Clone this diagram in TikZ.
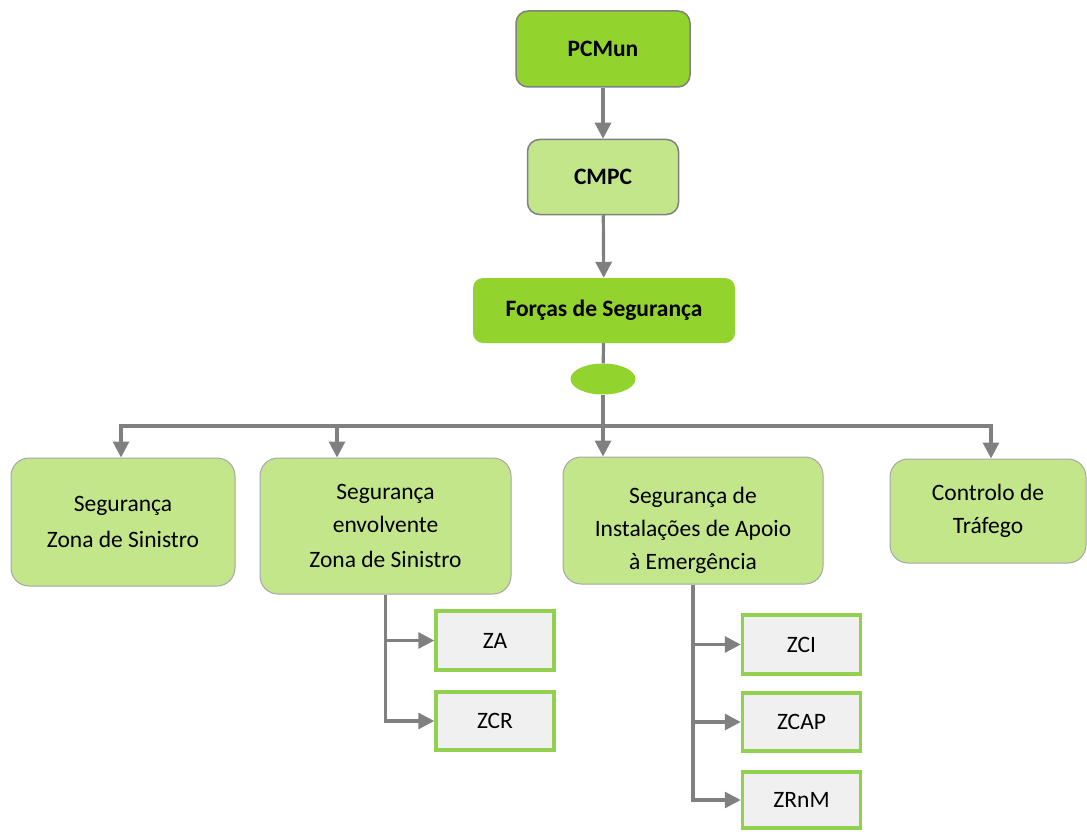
\documentclass[tikz,border=0pt]{standalone}
\usepackage{fontspec}
\setmainfont{Carlito}
\usetikzlibrary{arrows.meta,shapes.geometric}
\definecolor{dgreen}{HTML}{92D32E}
\definecolor{lgreen}{HTML}{C3E68B}
\definecolor{boxgreen}{HTML}{92D050}
\definecolor{linegray}{HTML}{808080}
\definecolor{zonegray}{HTML}{F0F0F0}

\begin{document}
\begin{tikzpicture}[x=1pt,y=-1pt,
  font=\fontsize{23.5}{33}\selectfont,
  topbox/.style={rounded corners=12pt,align=center,font=\fontsize{23.5}{28}\selectfont\bfseries,inner sep=0pt},
  unitbox/.style={rounded corners=18pt,fill=lgreen,draw=gray!70,line width=1pt,align=center,inner sep=0pt},
  zonebox/.style={fill=zonegray,draw=boxgreen,line width=3.5pt,minimum width=118pt,inner sep=0pt},
  link/.style={draw=linegray,line width=3.2pt},
  arr/.style={link,-{Triangle[length=16pt,width=16pt]}}]
  \useasboundingbox (0,0) rectangle (1087,832);

  \node[topbox,fill=dgreen,draw=gray,line width=1.5pt,minimum width=174pt,minimum height=76pt] (pcmun) at (603,49) {PCMun};
  \node[topbox,fill=lgreen,draw=gray,line width=1.5pt,minimum width=151pt,minimum height=75pt] (cmpc) at (603,177) {CMPC};
  \node[topbox,fill=dgreen,rounded corners=10pt,minimum width=262pt,minimum height=65pt] (forcas) at (604,310.5) {Forças de Segurança};
  \node[ellipse,fill=dgreen,minimum width=65pt,minimum height=31pt,inner sep=0pt] (elip) at (603,379) {};

  \node[unitbox,minimum width=224pt,minimum height=128pt] (seg1) at (123,522) {Segurança\\[3pt]Zona de Sinistro};
  \node[unitbox,minimum width=251pt,minimum height=136pt] (seg2) at (385.5,526) {Segurança\\envolvente\\[2pt]Zona de Sinistro};
  \node[unitbox,minimum width=260pt,minimum height=127pt] (seg3) at (693,520.5) {\raisebox{-16pt}[0pt][0pt]{\parbox{250pt}{\centering Segurança de\\Instalações de Apoio\\à Emergência}}};
  \node[unitbox,minimum width=196pt,minimum height=104pt] (trafego) at (988,511) {Controlo de\\Tráfego};

  \node[zonebox,minimum height=59pt] (za) at (495,640.5) {ZA};
  \node[zonebox,minimum height=58pt] (zcr) at (495,721) {ZCR};
  \node[zonebox,minimum height=59pt] (zci) at (801.5,644.5) {ZCI};
  \node[zonebox,minimum height=58pt] (zcap) at (801.5,722) {ZCAP};
  \node[zonebox,minimum height=56pt] (zrnm) at (801.5,800) {ZRnM};

  \coordinate (bar) at (603,426);
  \draw[arr] (pcmun) -- (cmpc);
  \draw[arr] (cmpc) -- (forcas);
  \draw[link] (forcas) -- (elip);
  \draw[link] (elip) -- (bar);
  \draw[arr] (bar) -| ([xshift=-2pt]seg1.north);
  \draw[arr] (bar) -| ([xshift=-48.5pt]seg2.north);
  \draw[arr] (bar) -| ([xshift=-90pt]seg3.north);
  \draw[arr] (bar) -| ([xshift=3pt]trafego.north);

  \draw[arr] (seg2.south) |- (za.west);
  \draw[arr] (seg2.south) |- (zcr.west);
  \draw[arr] (seg3.south) |- (zci.west);
  \draw[arr] (seg3.south) |- (zcap.west);
  \draw[arr] (seg3.south) |- (zrnm.west);
\end{tikzpicture}
\end{document}
